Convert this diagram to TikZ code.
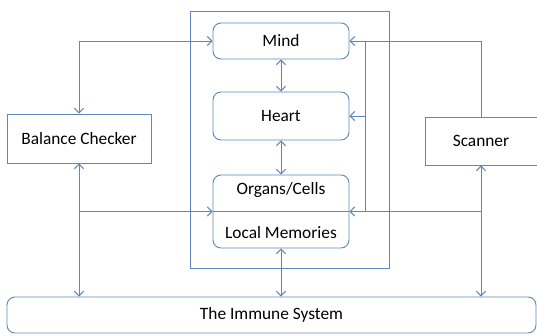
\documentclass[tikz,border=0pt]{standalone}
\usepackage{fontspec}
\setmainfont{Carlito}
\usetikzlibrary{arrows.meta}
\definecolor{ln}{RGB}{95,135,190}
\begin{document}
\begin{tikzpicture}[x=0.75pt,y=-0.75pt,
  txt/.style={font=\fontsize{13}{15}\selectfont},
  box/.style={draw=ln,line width=0.7pt,fill=white,minimum width=#1,inner sep=0pt,txt},
  rbox/.style={box=#1,rounded corners=6pt},
  con/.style={draw=ln,line width=0.7pt},
  arr/.style={con,-{Straight Barb[length=3.5pt,width=7pt]}},
  darr/.style={con,{Straight Barb[length=3.5pt,width=7pt]}-{Straight Barb[length=3.5pt,width=7pt]}}]
\useasboundingbox (0,0) rectangle (537,336);
\node[draw=ln,line width=0.7pt,minimum width=149.25pt,minimum height=192.75pt,inner sep=0pt] (outer) at (289.5,139.5) {};
\node[rbox=102pt,minimum height=27pt] (mind) at (281,41) {Mind};
\node[rbox=102pt,minimum height=36pt] (heart) at (281,116) {Heart};
\node[rbox=102pt,minimum height=54.75pt] (organs) at (281,211.5) {};
\node[txt] (oc) at (281,190) {Organs/Cells};
\node[txt] (lm) at (281,233) {Local Memories};
\node[box=108pt,minimum height=36.75pt] (bc) at (79,138.5) {Balance Checker};
\node[box=84pt,minimum height=36pt] (scan) at (481,141) {Scanner};
\node[rbox=396.75pt,minimum height=27pt] (imm) at (271.5,315) {The Immune System};
\coordinate (vt) at (365,41);
\coordinate (vb) at (365,211.5);
\draw[con] (organs.west) -- (organs.east);
\draw[darr] (bc.north) |- (mind.west);
\draw[arr] (scan.north) |- (mind.east);
\draw[darr] (bc.south) -- (bc.south |- imm.north);
\draw[arr] (bc.south |- organs.west) -- (organs.west);
\draw[darr] (scan.south) -- (scan.south |- imm.north);
\draw[arr] (scan.south |- organs.east) -- (organs.east);
\draw[con] (vt) -- (vb);
\draw[arr] (heart.east -| vt) -- (heart.east);
\draw[darr] (mind.south) -- (heart.north);
\draw[darr] (heart.south) -- (organs.north);
\draw[darr] (organs.south) -- (organs.south |- imm.north);
\end{tikzpicture}
\end{document}
